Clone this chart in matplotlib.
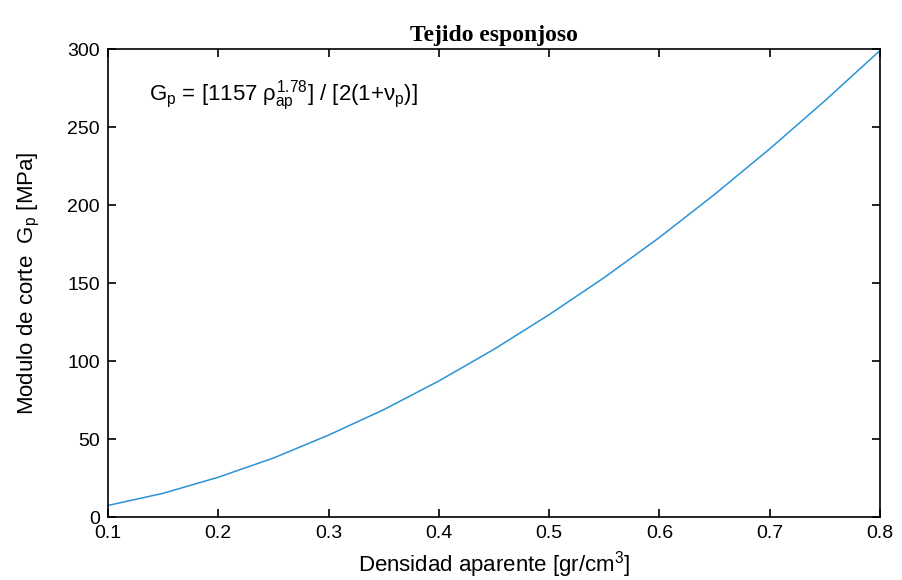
#!/usr/bin/env python3

import matplotlib
matplotlib.use("Agg")
import matplotlib.pyplot as plt

# densidad aparente [gr/cm3] vs modulo de corte [MPa]
densidad = [0.10, 0.15, 0.20, 0.25, 0.30, 0.35, 0.40, 0.45,
            0.50, 0.55, 0.60, 0.65, 0.70, 0.75, 0.80]
modulo = [7.4, 15.2, 25.5, 37.8, 52.5, 68.8, 87.2, 107.5,
          129.7, 153.5, 179.2, 206.8, 236.0, 266.8, 299.0]

xticks = [0.1, 0.2, 0.3, 0.4, 0.5, 0.6, 0.7, 0.8]
yticks = [0, 50, 100, 150, 200, 250, 300]


def main():
  plt.rcParams['font.family'] = ['Liberation Sans', 'DejaVu Sans']
  plt.rcParams['mathtext.fontset'] = 'custom'
  plt.rcParams['mathtext.rm'] = 'Liberation Sans'
  plt.rcParams['mathtext.it'] = 'Liberation Sans'

  fig = plt.figure(figsize=(9.02, 5.8), dpi=100)
  ax = fig.add_axes([0.1197, 0.1086, 0.8559, 0.8069])

  ax.plot(densidad, modulo, color='#2a93d5', linewidth=1.1)

  ax.set_xlim(0.1, 0.8)
  ax.set_ylim(0, 300)
  ax.set_xticks(xticks)
  ax.set_xticklabels([f"{t:.1f}" for t in xticks])
  ax.set_yticks(yticks)
  ax.tick_params(direction='in', top=True, right=True, length=6, width=1.2,
                 labelsize=14, pad=6)
  for s in ax.spines.values():
    s.set_linewidth(1.2)

  ax.text(0.137, 267, r'G$_\mathregular{p}$ = [1157 $\rho_\mathregular{ap}^\mathregular{1.78}$] / [2(1+$\nu_\mathregular{p}$)]',
          fontsize=16)

  ax.set_title("Tejido esponjoso", family=['Liberation Serif', 'DejaVu Serif'],
               fontweight='bold', fontsize=17, pad=6)
  ax.set_xlabel(r"Densidad aparente [gr/cm$^\mathregular{3}$]", fontsize=16, labelpad=5)
  ax.set_ylabel(r"Modulo de corte  G$_\mathregular{p}$ [MPa]", fontsize=16, labelpad=18)

  fig.savefig("out.png", dpi=100)


if __name__=="__main__":
  main()
